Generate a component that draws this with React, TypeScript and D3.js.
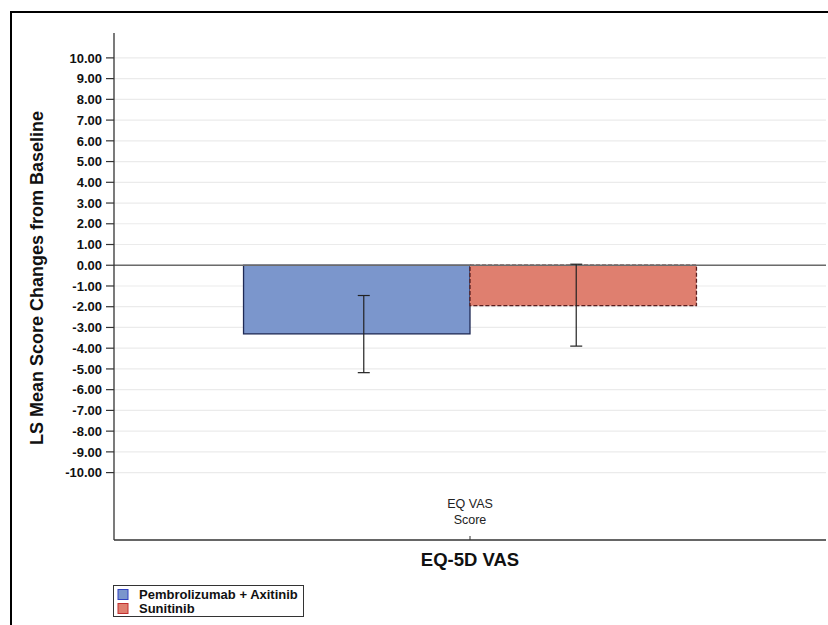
import React from "react";
import * as d3 from "d3";

const categories = ["EQ VAS Score"];
const groups = ["Pembrolizumab + Axitinib", "Sunitinib"];
const lsMeans = [-3.31, -1.95];
const lowerCI = [-5.18, -3.9];
const upperCI = [-1.46, 0.05];
const yTicks = [10, 9, 8, 7, 6, 5, 4, 3, 2, 1, 0, -1, -2, -3, -4, -5, -6, -7, -8, -9, -10];

const fills = ["#7B96CC", "#DF7F6F"];
const strokes = ["#1F2A55", "#5A1E1E"];

const W = 828;
const H = 625;
const plotLeft = 114;
const plotRight = 826;
const plotTop = 33;
const plotBottom = 540;
const font = "'Liberation Sans', Arial, sans-serif";

export default function App() {
  const y = d3.scaleLinear().domain([-13.25, 11.2]).range([plotBottom, plotTop]);
  const x = d3
    .scaleBand<string>()
    .domain(categories)
    .range([plotLeft, plotRight])
    .paddingOuter(0.286)
    .paddingInner(0);
  const xg = d3.scaleBand<string>().domain(groups).range([0, x.bandwidth()]).padding(0);
  // whiskers sit slightly toward the cluster centre
  const errOffsets = [7, -7];

  return (
    <svg
      width={W}
      height={H}
      style={{ position: "absolute", left: 0, top: 0, background: "#fff" }}
      fontFamily={font}
    >
      {/* outer frame */}
      <rect x={11} y={12} width={W + 20} height={H + 20} fill="none" stroke="#000" strokeWidth={2} />

      {/* gridlines */}
      {yTicks.map((t) => (
        <line
          key={"g" + t}
          x1={plotLeft}
          x2={plotRight}
          y1={y(t)}
          y2={y(t)}
          stroke="#ebebeb"
          strokeWidth={1.2}
        />
      ))}

      {/* bars */}
      {categories.map((c) =>
        groups.map((g, i) => {
          const x0 = (x(c) ?? 0) + (xg(g) ?? 0);
          const bw = xg.bandwidth();
          const v = lsMeans[i];
          return (
            <rect
              key={c + g}
              x={x0}
              y={y(Math.max(0, v))}
              width={bw}
              height={Math.abs(y(v) - y(0))}
              fill={fills[i]}
              stroke={strokes[i]}
              strokeWidth={1.3}
              strokeDasharray={i === 1 ? "4,2" : undefined}
            />
          );
        })
      )}

      {/* zero reference line */}
      <line x1={plotLeft} x2={plotRight} y1={y(0)} y2={y(0)} stroke="#6b6b6b" strokeWidth={1.3} />

      {/* confidence interval whiskers */}
      {categories.map((c) =>
        groups.map((g, i) => {
          const cx = (x(c) ?? 0) + (xg(g) ?? 0) + xg.bandwidth() / 2 + errOffsets[i];
          return (
            <g key={"e" + c + g} stroke="#222" strokeWidth={1.2}>
              <line x1={cx} x2={cx} y1={y(upperCI[i])} y2={y(lowerCI[i])} />
              <line x1={cx - 6} x2={cx + 6} y1={y(upperCI[i])} y2={y(upperCI[i])} />
              <line x1={cx - 6} x2={cx + 6} y1={y(lowerCI[i])} y2={y(lowerCI[i])} />
            </g>
          );
        })
      )}

      {/* y axis */}
      <line x1={plotLeft} x2={plotLeft} y1={plotTop} y2={plotBottom} stroke="#333" strokeWidth={1.3} />
      {yTicks.map((t) => (
        <g key={"t" + t}>
          <line x1={plotLeft - 8} x2={plotLeft} y1={y(t)} y2={y(t)} stroke="#333" strokeWidth={1.2} />
          <text
            x={plotLeft - 12}
            y={y(t)}
            dy="0.36em"
            textAnchor="end"
            fontSize={13}
            fontWeight="bold"
            fill="#111"
          >
            {t.toFixed(2)}
          </text>
        </g>
      ))}
      <text
        transform={`translate(43, 278) rotate(-90)`}
        textAnchor="middle"
        fontSize={18}
        fontWeight="bold"
        fill="#111"
      >
        LS Mean Score Changes from Baseline
      </text>

      {/* x axis */}
      <line x1={plotLeft} x2={plotRight} y1={plotBottom} y2={plotBottom} stroke="#333" strokeWidth={1.3} />
      {categories.map((c) => {
        const cx = (x(c) ?? 0) + x.bandwidth() / 2;
        const words = ["EQ VAS", "Score"];
        return (
          <g key={"x" + c}>
            <line x1={cx} x2={cx} y1={plotBottom - 4} y2={plotBottom} stroke="#333" strokeWidth={1} />
            {words.map((w, k) => (
              <text key={w} x={cx} y={507.5 + k * 16} textAnchor="middle" fontSize={12.5} fill="#222">
                {w}
              </text>
            ))}
          </g>
        );
      })}
      <text x={470} y={566} textAnchor="middle" fontSize={18.5} fontWeight="bold" fill="#111">
        EQ-5D VAS
      </text>

      {/* legend */}
      <rect x={113.5} y={585.5} width={190} height={31} fill="#fff" stroke="#333" strokeWidth={1} />
      {groups.map((g, i) => (
        <g key={"l" + g}>
          <rect
            x={118}
            y={589.5 + i * 14}
            width={10}
            height={10}
            fill={fills[i]}
            stroke={i === 0 ? "#3040c0" : "#c03030"}
            strokeWidth={1}
          />
          <text x={139} y={594.5 + i * 14} dy="0.36em" fontSize={13} fontWeight="bold" fill="#111">
            {g}
          </text>
        </g>
      ))}
    </svg>
  );
}
